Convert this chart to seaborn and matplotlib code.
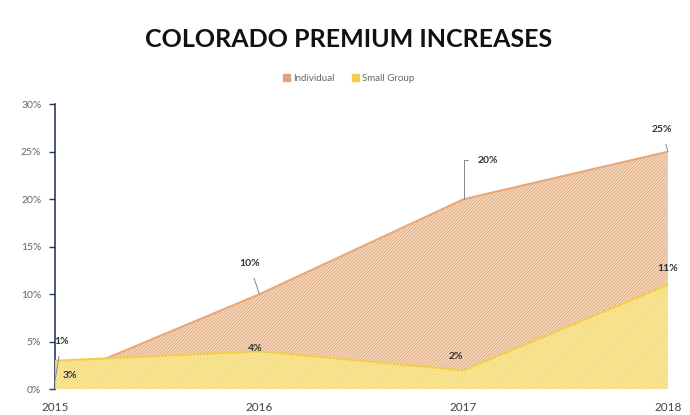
import matplotlib
matplotlib.use("Agg")
import numpy as np
import pandas as pd
import seaborn as sns
import matplotlib.pyplot as plt
from matplotlib.ticker import PercentFormatter

sns.set_theme(style="white")
plt.rcParams['font.family'] = ['Lato', 'DejaVu Sans']
plt.rcParams['hatch.linewidth'] = 0.5

years = [2015, 2016, 2017, 2018]
individual = [1, 10, 20, 25]
small_group = [3, 4, 2, 11]
ind_labels = ['1%', '10%', '20%', '25%']
sg_labels = ['3%', '4%', '2%', '11%']

df = pd.DataFrame({'year': years, 'Individual': individual, 'Small Group': small_group})

IND_FILL = '#F4D7BC'
IND_HATCH = '#DDA276'
SG_FILL = '#FAEBA4'
SG_HATCH = '#EFCB55'
NAVY = '#2E3A66'

fig = plt.figure(figsize=(6.9, 4.15), dpi=100)
ax = fig.add_axes([0.080, 0.062, 0.888, 0.687])

# Individual behind, Small Group on top (not stacked)
ax.fill_between(df['year'], 0, df['Individual'], facecolor=IND_FILL,
                edgecolor=IND_HATCH, hatch='/' * 10, linewidth=0, zorder=1)
sns.lineplot(data=df, x='year', y='Individual', ax=ax, color='#E8A878',
             linewidth=1.5, zorder=2)
ax.fill_between(df['year'], 0, df['Small Group'], facecolor=SG_FILL,
                edgecolor=SG_HATCH, hatch='/' * 10, linewidth=0, zorder=3)
sns.lineplot(data=df, x='year', y='Small Group', ax=ax, color='#F3CD4C',
             linewidth=1.5, zorder=4)

ax.set_xlim(2015, 2018)
ax.set_ylim(0, 30)
ax.set_yticks(np.arange(0, 31, 5))
ax.yaxis.set_major_formatter(PercentFormatter(decimals=0))
ax.set_xticks(years)
ax.set_xticklabels([str(y) for y in years])
ax.set_xlabel('')
ax.set_ylabel('')

for s in ['top', 'right', 'bottom']:
    ax.spines[s].set_visible(False)
ax.spines['left'].set_color(NAVY)
ax.spines['left'].set_linewidth(1.2)
ax.tick_params(axis='y', left=True, length=4, width=1, color=NAVY,
               labelsize=7.5, labelcolor='#666666', pad=6)
ax.tick_params(axis='x', bottom=False, labelsize=8.5, labelcolor='#444444', pad=3)

# data labels for Individual (with leader lines)
ind_offsets = [(0.03, 5.0), (-0.05, 13.2), (0.12, 24.1), (-0.03, 27.3)]
ind_conn = ['arc3', 'arc3', 'angle,angleA=0,angleB=90,rad=0', 'arc3']
for x, y, lab, (tx, ty), cs in zip(years, individual, ind_labels, ind_offsets, ind_conn):
    ax.annotate(lab, xy=(x, y), xytext=(x + tx, ty), fontsize=7.5, fontweight='bold',
                color='#333333', ha='center', va='center', zorder=6,
                arrowprops=dict(arrowstyle='-', color='#888888', lw=0.7,
                                shrinkA=5, shrinkB=0, connectionstyle=cs))

sg_offsets = [(0.07, 1.5), (-0.02, 4.3), (-0.04, 3.5), (0.0, 12.7)]
for x, y, lab, (tx, ty) in zip(years, small_group, sg_labels, sg_offsets):
    ax.text(x + tx, ty, lab, fontsize=7.5, fontweight='bold', color='#333333',
            ha='center', va='center', zorder=6)

fig.text(0.505, 0.905, 'COLORADO PREMIUM INCREASES', ha='center', va='center',
         fontsize=18, fontweight='bold', color='#111111')

handles = [plt.Rectangle((0, 0), 1, 1, color=IND_HATCH),
           plt.Rectangle((0, 0), 1, 1, color='#F3CD4C')]
fig.legend(handles, ['Individual', 'Small Group'], loc='center',
           bbox_to_anchor=(0.505, 0.812), ncol=2, frameon=False, fontsize=7,
           handlelength=0.7, handleheight=0.7, handletextpad=0.3, columnspacing=1.8,
           labelcolor='#666666')

fig.savefig('out.png', dpi=100)
